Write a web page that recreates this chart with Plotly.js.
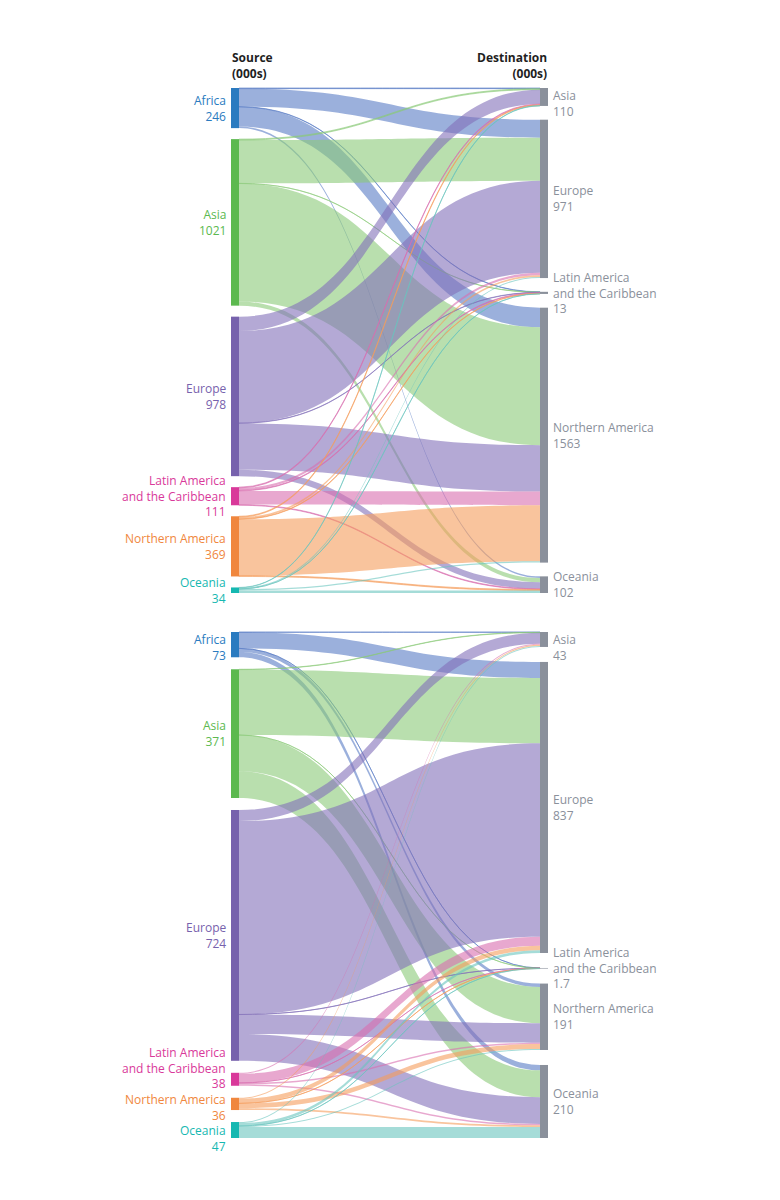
<!DOCTYPE html>
<html><head><meta charset="utf-8">
<script src="https://cdn.plot.ly/plotly-3.0.1.min.js"></script>
<style>html,body{margin:0;padding:0;background:#fff}#chart{width:780px;height:1200px}</style>
</head><body><div id="chart"></div>
<script>
// ---------- DATA ----------
const regions = ['Africa', 'Asia', 'Europe', 'Latin America and the Caribbean', 'Northern America', 'Oceania'];
const destinations = ['Asia', 'Europe', 'Latin America and the Caribbean', 'Northern America', 'Oceania'];

const topSourceTotals = [246, 1021, 978, 111, 369, 34];
const topDestTotals = [110, 971, 13, 1563, 102];
const bottomSourceTotals = [73, 371, 724, 38, 36, 47];
const bottomDestTotals = [43, 837, 1.7, 191, 210];

// flows (000s): rows = source region, columns = destination (Asia, Europe, LatAm, N. America, Oceania)
const topFlows = [
  [4, 110, 2, 120, 10],
  [6, 265, 1, 723, 26],
  [88, 564, 2, 284, 40],
  [5, 14, 4, 84, 4],
  [5, 11, 3, 344, 6],
  [2, 7, 1, 8, 16]
];
const bottomFlows = [
  [1, 46, 0.2, 10, 15.5],
  [1, 188, 0.2, 104, 77],
  [32, 556, 0.3, 56, 77],
  [3, 26, 0.3, 4, 4],
  [3, 13, 0.3, 14, 5],
  [3, 8, 0.4, 3, 31.5]
];

// ---------- STYLE ----------
const sourceColors = ['#2b7bc0', '#5cb94f', '#7762ad', '#d9399a', '#f0873e', '#16b8b1'];
const linkColors = ['rgba(88,123,197,0.6)', 'rgba(138,202,120,0.6)', 'rgba(130,112,185,0.6)',
                    'rgba(217,110,175,0.6)', 'rgba(245,157,92,0.6)', 'rgba(105,197,190,0.6)'];
const destColor = '#8a909b';
const destLabelColor = '#8a909b';
const FONT = 'Open Sans, Noto Sans, sans-serif';
const FS = 12;
const LINE_H = FS * 1.3;

const W = 780, H = 1200;
const DOM_X0 = 195, DOM_X1 = 585;
const X_SRC = 235, X_DST = 544, THICK = 8;

const panels = [
  {flows: topFlows, srcT: topSourceTotals, dstT: topDestTotals, y0: 88, y1: 593, pad: 11},
  {flows: bottomFlows, srcT: bottomSourceTotals, dstT: bottomDestTotals, y0: 632, y1: 1138, pad: 12}
];

const sum = a => a.reduce((s, v) => s + v, 0);
const wrapName = n => n.replace(' and the ', '<br>and the ');

function placeLabels(centers, lines, minTop) {
  const c = centers.slice();
  const h = lines.map(n => n * LINE_H);
  for (let it = 0; it < 300; it++) {
    for (let i = 0; i < c.length; i++) {
      const top = c[i] - h[i] / 2;
      if (top < minTop) c[i] += minTop - top;
    }
    for (let i = 0; i < c.length - 1; i++) {
      const ov = (c[i] + h[i] / 2) - (c[i + 1] - h[i + 1] / 2);
      if (ov > 0) { c[i] -= ov / 2; c[i + 1] += ov / 2; }
    }
  }
  return c;
}

const traces = [];
const annotations = [];

panels.forEach(p => {
  const nS = regions.length, nD = destinations.length;
  const src = [], tgt = [], val = [], col = [];
  p.flows.forEach((row, i) => row.forEach((v, j) => {
    src.push(i); tgt.push(nS + j); val.push(v); col.push(linkColors[i]);
  }));
  const sVals = p.flows.map(r => sum(r));
  const dVals = destinations.map((_, j) => sum(p.flows.map(r => r[j])));
  const Hd = p.y1 - p.y0;
  const ky = Math.min((Hd - (nS - 1) * p.pad) / sum(sVals), (Hd - (nD - 1) * p.pad) / sum(dVals));

  const sC = []; let y = 0;
  sVals.forEach(v => { sC.push(y + v * ky / 2); y += v * ky + p.pad; });
  const gap = (Hd - sum(dVals) * ky) / (nD - 1);
  const dC = []; y = 0;
  dVals.forEach(v => { dC.push(y + v * ky / 2); y += v * ky + gap; });

  const domW = DOM_X1 - DOM_X0;
  const nodeX = [...sC.map(() => (X_SRC - DOM_X0) / domW), ...dC.map(() => (X_DST - DOM_X0) / domW)];
  const nodeY = [...sC.map(c => c / Hd), ...dC.map(c => c / Hd)];

  traces.push({
    type: 'sankey',
    arrangement: 'fixed',
    domain: {x: [DOM_X0 / W, DOM_X1 / W], y: [1 - p.y1 / H, 1 - p.y0 / H]},
    node: {
      label: new Array(nS + nD).fill(''),
      color: [...sourceColors, ...destinations.map(() => destColor)],
      thickness: THICK, pad: p.pad, line: {width: 0},
      x: nodeX, y: nodeY, hoverinfo: 'none'
    },
    link: {source: src, target: tgt, value: val, color: col, line: {width: 0}, hoverinfo: 'none'},
    textfont: {size: 1, color: 'rgba(0,0,0,0)'}
  });

  // labels
  const sTexts = regions.map((r, i) => wrapName(r) + '<br>' + p.srcT[i]);
  const dTexts = destinations.map((r, i) => wrapName(r) + '<br>' + p.dstT[i]);
  const sLines = sTexts.map(t => t.split('<br>').length);
  const dLines = dTexts.map(t => t.split('<br>').length);
  const sPos = placeLabels(sC.map(c => c + p.y0), sLines, p.y0);
  const dPos = placeLabels(dC.map(c => c + p.y0), dLines, p.y0);
  sTexts.forEach((t, i) => annotations.push({
    text: t, x: (X_SRC - THICK / 2 - 3) / W, y: 1 - sPos[i] / H, xref: 'paper', yref: 'paper',
    xanchor: 'right', yanchor: 'middle', align: 'right', showarrow: false,
    font: {family: FONT, size: FS, color: sourceColors[i]}
  }));
  dTexts.forEach((t, i) => annotations.push({
    text: t, x: (X_DST + THICK / 2 + 3) / W, y: 1 - dPos[i] / H, xref: 'paper', yref: 'paper',
    xanchor: 'left', yanchor: 'middle', align: 'left', showarrow: false,
    font: {family: FONT, size: FS, color: destLabelColor}
  }));
});

annotations.push({
  text: '<b>Source</b><br><b>(000s)</b>', x: (X_SRC - THICK / 2 - 1) / W, y: 1 - 65 / H,
  xref: 'paper', yref: 'paper', xanchor: 'left', yanchor: 'middle', align: 'left', showarrow: false,
  font: {family: FONT, size: FS, color: '#1f1f1f'}
});
annotations.push({
  text: '<b>Destination</b><br><b>(000s)</b>', x: (X_DST + THICK / 2 + 1) / W, y: 1 - 65 / H,
  xref: 'paper', yref: 'paper', xanchor: 'right', yanchor: 'middle', align: 'right', showarrow: false,
  font: {family: FONT, size: FS, color: '#1f1f1f'}
});

Plotly.newPlot('chart', traces, {
  width: W, height: H, margin: {l: 0, r: 0, t: 0, b: 0},
  paper_bgcolor: '#ffffff', plot_bgcolor: '#ffffff',
  font: {family: FONT, size: FS},
  annotations: annotations, showlegend: false
}, {displayModeBar: false, staticPlot: true});
</script>
</body></html>
